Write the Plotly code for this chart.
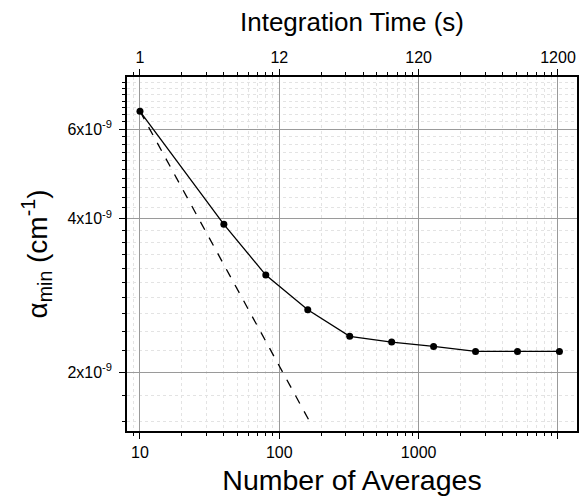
import plotly.graph_objects as go
import math

# Data
averages = [10, 40, 80, 160, 320, 640, 1280, 2560, 5120, 10240]
alpha_min = [6.5e-9, 3.90e-9, 3.10e-9, 2.65e-9, 2.35e-9, 2.29e-9, 2.245e-9, 2.195e-9, 2.195e-9, 2.195e-9]
ideal_x = [10, 170]
ideal_y = [6.5e-9, 1.576e-9]

x_tickvals = [10, 100, 1000, 10000]
x_ticktext = ["10", "100", "1000", "10000"]
top_ticktext = ["1", "12", "120", "1200"]
y_tickvals = [2e-9, 4e-9, 6e-9]
y_ticktext = ["2x10<sup>-9</sup>", "4x10<sup>-9</sup>", "6x10<sup>-9</sup>"]

x_minor = [m * 10 ** d for d in range(0, 5) for m in range(2, 10)]
y_minor = [round(v, 1) * 1e-9 for v in [1.6 + 0.2 * i for i in range(31)]]

FONT = "Liberation Sans, Arial, sans-serif"
xr = [math.log10(8.07), math.log10(13690)]
yr = [math.log10(1.532e-9), math.log10(7.59e-9)]

fig = go.Figure()
fig.add_trace(go.Scatter(x=ideal_x, y=ideal_y, mode="lines",
                         line=dict(color="black", width=1.3, dash="dash"),
                         showlegend=False, hoverinfo="skip"))
fig.add_trace(go.Scatter(x=averages, y=alpha_min, mode="lines+markers",
                         line=dict(color="black", width=1.3),
                         marker=dict(color="black", size=7),
                         showlegend=False))
fig.add_trace(go.Scatter(x=averages, y=alpha_min, xaxis="x2", mode="markers",
                         marker=dict(opacity=0), showlegend=False, hoverinfo="skip"))

minor_common = dict(ticks="outside", ticklen=3, tickcolor="black", tickwidth=1,
                    showgrid=True, gridcolor="#e3e3e3", griddash="dot", gridwidth=1)

fig.update_layout(
    width=580, height=498,
    margin=dict(l=127, r=3, t=77, b=67, autoexpand=False),
    plot_bgcolor="white", paper_bgcolor="white",
    font=dict(family=FONT, color="black", size=16),
    xaxis=dict(type="log", range=xr, tickmode="array", tickvals=x_tickvals, ticktext=x_ticktext,
               ticks="outside", ticklen=6, tickcolor="black", tickwidth=1,
               showgrid=True, gridcolor="#9a9a9a", gridwidth=1,
               showline=True, linecolor="black", linewidth=1.5, mirror=True,
               tickfont=dict(size=16), zeroline=False, automargin=False,
               minor=dict(tickmode="array", tickvals=x_minor, **minor_common),
               title=dict(text="Number of Averages", font=dict(size=28.5), standoff=10)),
    xaxis2=dict(type="log", range=xr, overlaying="x", side="top", anchor="y",
                tickmode="array", tickvals=x_tickvals, ticktext=top_ticktext,
                ticks="outside", ticklen=6, tickcolor="black", tickwidth=1,
                showgrid=False, showline=True, linecolor="black", linewidth=1.5,
                tickfont=dict(size=16), automargin=False,
                minor=dict(tickmode="array", tickvals=x_minor, ticks="outside", ticklen=3,
                           tickcolor="black", showgrid=False),
                title=dict(text="Integration Time (s)", font=dict(size=26), standoff=10)),
    yaxis=dict(type="log", range=yr, tickmode="array", tickvals=y_tickvals, ticktext=y_ticktext,
               ticks="outside", ticklen=6, tickcolor="black", tickwidth=1,
               showgrid=True, gridcolor="#9a9a9a", gridwidth=1, ticklabelstandoff=4,
               showline=True, linecolor="black", linewidth=1.5, mirror=True,
               tickfont=dict(size=16), zeroline=False, automargin=False,
               minor=dict(tickmode="array", tickvals=y_minor, **minor_common),
               title=dict(text="α<sub>min</sub> (cm<sup>-1</sup>)", font=dict(size=28), standoff=12)),
)

fig.write_html("out.html", config={"displayModeBar": False},
               post_script="document.body.style.margin='0';")
